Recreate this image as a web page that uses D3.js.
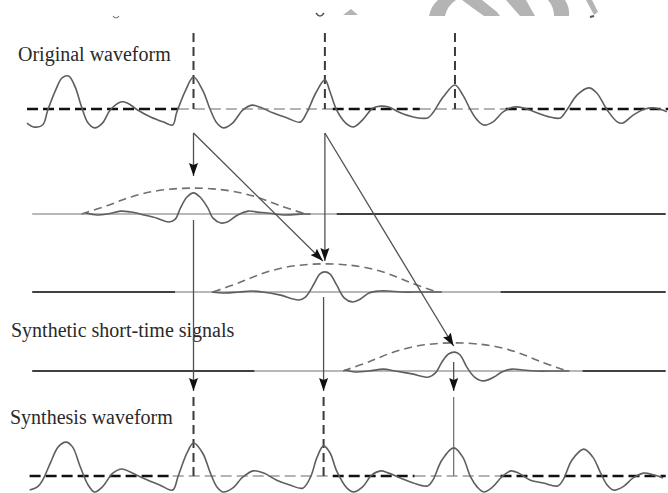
<!DOCTYPE html>
<html>
<head>
<meta charset="utf-8">
<script src="https://cdn.jsdelivr.net/npm/d3@7"></script>
<style>
  html, body { margin: 0; padding: 0; background: #fff; }
  svg { display: block; }
</style>
</head>
<body>
<div id="chart"></div>
<script>
// --- data (time in ms, amplitude in arbitrary units) ---
var origT = [0.0, 0.5, 1.2, 1.6, 2.2, 2.7, 3.2, 3.7, 4.2, 4.7, 5.2, 5.8, 6.4, 7.2, 7.7, 8.5, 9.5, 10.5, 11.2, 11.5,
  12.2, 12.8, 13.5, 14.1, 14.6, 15.1, 15.8, 16.6, 17.3, 17.9, 18.9, 20.0, 21.0, 21.5, 22.2, 22.9, 23.3, 23.8,
  24.5, 25.1, 25.8, 26.6, 27.2, 27.8, 28.7, 29.7, 30.8, 31.2, 32.0, 32.9, 33.5, 34.1, 34.6, 35.1, 35.8, 36.6,
  37.4, 38.2, 39.2, 40.2, 41.0, 41.5, 42.3, 43.2, 43.8, 44.6, 45.4, 45.8, 46.6, 47.5, 48.3, 49.2];
var origV = [-0.44, -0.56, -0.50, -0.03, 0.59, 0.97, 1.03, 0.69, 0.06, -0.44, -0.59, -0.44, -0.03, 0.22, 0.19, -0.03, -0.25, -0.41, -0.50, -0.12,
  0.59, 1.00, 0.59, -0.03, -0.44, -0.59, -0.44, -0.03, 0.12, 0.06, -0.12, -0.28, -0.41, -0.12, 0.50, 0.91, 0.53, -0.03,
  -0.44, -0.56, -0.34, 0.03, 0.09, 0.06, -0.12, -0.25, -0.28, -0.12, 0.38, 0.75, 0.44, -0.03, -0.34, -0.50, -0.41, -0.09,
  0.06, 0.03, -0.12, -0.25, -0.28, -0.03, 0.44, 0.66, 0.50, -0.03, -0.41, -0.44, -0.19, 0.00, 0.03, -0.09];

var synthT = [0.2, 0.8, 1.2, 1.8, 2.4, 3.0, 3.5, 4.1, 4.7, 5.2, 5.8, 6.6, 7.3, 7.9, 8.9, 10.2, 11.2, 11.6,
  12.3, 12.8, 13.5, 14.1, 14.6, 15.1, 15.8, 16.6, 17.4, 18.2, 19.2, 20.2, 21.2, 21.8, 22.3, 22.8, 23.3, 23.8,
  24.6, 25.1, 25.8, 26.5, 27.2, 27.8, 28.7, 29.7, 30.8, 31.2, 31.9, 32.8, 33.5, 34.1, 34.6, 35.1, 35.8, 36.5,
  37.2, 37.8, 38.7, 39.7, 40.8, 41.2, 41.9, 42.8, 43.5, 44.1, 44.6, 45.1, 45.8, 46.6, 47.4, 48.2, 48.9];
var synthV = [-0.44, -0.34, -0.13, 0.41, 0.91, 1.06, 0.91, 0.28, -0.28, -0.50, -0.34, 0.09, 0.22, 0.13, -0.06, -0.28, -0.44, -0.03,
  0.72, 1.03, 0.72, 0.09, -0.34, -0.50, -0.38, -0.03, 0.16, 0.09, -0.13, -0.28, -0.38, -0.03, 0.59, 0.94, 0.72, 0.16,
  -0.38, -0.50, -0.34, 0.03, 0.16, 0.09, -0.06, -0.22, -0.31, -0.13, 0.50, 0.88, 0.59, -0.03, -0.34, -0.50, -0.34, -0.03,
  0.16, 0.09, -0.13, -0.22, -0.31, -0.13, 0.50, 0.84, 0.59, 0.09, -0.28, -0.44, -0.34, -0.06, 0.09, 0.03, -0.06];

// pitch marks (ms)
var analysisMarks = [12.8, 22.9, 32.9];
var synthesisMarks = [12.8, 22.8, 32.8];

// short-time signals, offsets from their pitch mark
var st1T = [-8.3, -7.4, -6.6, -5.6, -4.8, -3.8, -2.8, -1.9, -1.4, -1.0, -0.5, 0, 0.5, 1.1, 1.5, 2.1, 2.6, 3.4, 4.2, 4.9, 5.7, 6.9, 8.5, 9.0];
var st1V = [0.03, -0.03, 0, 0.09, 0.06, -0.03, -0.13, -0.25, -0.16, 0.19, 0.53, 0.66, 0.53, 0.19, -0.13, -0.28, -0.25, -0.03, 0.09, 0.06, 0.03, -0.03, 0, 0];
var st2T = [-8.7, -7.7, -6.6, -5.6, -4.8, -3.5, -2.0, -1.5, -0.8, -0.4, 0, 0.4, 0.9, 1.5, 2.1, 2.6, 3.4, 4.2, 4.9, 5.9, 7.5, 9.0];
var st2V = [0, -0.03, 0, 0.03, 0, -0.09, -0.25, -0.16, 0.28, 0.56, 0.63, 0.56, 0.22, -0.19, -0.31, -0.25, -0.03, 0.03, 0.03, 0, 0, 0];
var st3T = [-8.5, -7.7, -6.6, -5.5, -4.6, -3.3, -2.0, -1.5, -1.0, -0.5, 0, 0.4, 0.9, 1.5, 2.2, 3.0, 3.6, 4.4, 5.2, 6.2, 7.7, 8.8];
var st3V = [0.03, -0.03, 0, 0.06, 0, -0.09, -0.19, -0.06, 0.28, 0.53, 0.59, 0.50, 0.13, -0.19, -0.31, -0.19, -0.03, 0.06, 0.03, 0, 0, 0];

// analysis window shape and its height in each band
var winT = [-8.6, -6.6, -4.8, -3.1, -1.5, 0, 1.5, 3.1, 4.8, 6.6, 8.6];
var winV = [0, 0.33, 0.66, 0.87, 0.97, 1, 0.97, 0.87, 0.66, 0.33, 0];
var winPeak = [0.81, 0.88, 0.88];

// zero line pieces: [from, to, tone]
var origZero = [[0, 11.6, "k"], [11.6, 23.5, "g"], [23.5, 30.2, "k"], [30.2, 36.8, "g"], [36.8, 49.3, "k"]];
var synthZero = [[0.2, 11.2, "k"], [11.2, 23.5, "g"], [23.5, 29.8, "k"], [29.8, 36.4, "g"], [36.4, 49.1, "k"]];
var stZero = [
  [[0.4, 23.8, "g"], [23.8, 49.1, "k"]],
  [[0.4, 11.4, "k"], [11.4, 36.4, "g"], [36.4, 49.1, "k"]],
  [[0.4, 17.5, "k"], [17.5, 42.7, "g"], [42.7, 49.1, "k"]]
];

var labels = ["Original waveform", "Synthetic short-time signals", "Synthesis waveform"];

// --- drawing ---
var W = 668, H = 493;
var svg = d3.select("#chart").append("svg")
  .attr("width", W).attr("height", H)
  .style("background", "#fff");

var x = d3.scaleLinear().domain([0, 49.2]).range([27, 667]);
var bases = [109, 214, 292, 371, 476];
function bandY(base) {
  return d3.scaleLinear().domain([-1, 1]).range([base + 32, base - 32]);
}
var yb = bases.map(bandY);

var defs = svg.append("defs");
defs.append("marker")
  .attr("id", "head")
  .attr("viewBox", "0 -5 14 10")
  .attr("markerUnits", "userSpaceOnUse")
  .attr("markerWidth", 14).attr("markerHeight", 10)
  .attr("refX", 13).attr("refY", 0)
  .attr("orient", "auto")
  .append("path")
  .attr("d", "M0,-4.5L13,0L0,4.5L2,0Z")
  .attr("fill", "#111");

// faint watermark bits and cut-off text at the very top
var wm = svg.append("g").attr("fill", "#b4b4b4");
wm.append("path").attr("d", "M343,15L351,9L358,15Z");
wm.append("path").attr("d", "M429,16Q431,6 438,0L456,0Q447,6 445,16Z");
wm.append("path").attr("d", "M462,0L482,0L497,12L500,16L484,16L470,6Z");
wm.append("path").attr("d", "M506,0L526,0L535,16L520,16Z");
wm.append("path").attr("d", "M548,0L565,0Q570,8 569,16L554,16Q554,7 548,0Z");
wm.append("path").attr("d", "M586,0L592,0L598,12L594,15Z");
svg.append("path").attr("d", "M113,16Q116,20 119,16").attr("fill", "none").attr("stroke", "#777").attr("stroke-width", 1.2);
svg.append("path").attr("d", "M316,13Q320,19 324,13").attr("fill", "none").attr("stroke", "#555").attr("stroke-width", 1.5);
svg.append("path").attr("d", "M590,17L594,16").attr("stroke", "#555").attr("stroke-width", 2);

// labels
var labelPos = [[18, 61], [11, 337], [10, 424]];
svg.selectAll("text.lab")
  .data(labels)
  .enter().append("text")
  .attr("class", "lab")
  .attr("x", function(d, i) { return labelPos[i][0]; })
  .attr("y", function(d, i) { return labelPos[i][1]; })
  .attr("font-family", "'Liberation Serif', 'Times New Roman', serif")
  .attr("font-size", 20)
  .attr("fill", "#2a2a2a")
  .text(function(d) { return d; });

var curve = d3.line()
  .x(function(d) { return x(d[0]); })
  .y(function(d) { return d[1]; })
  .curve(d3.curveCatmullRom.alpha(0.5));

function zip(ts, vs, y, shift) {
  return ts.map(function(t, i) { return [t + (shift || 0), y(vs[i])]; });
}

// dashed zero line of a full waveform
function dashedZero(pieces, base) {
  svg.selectAll(null)
    .data(pieces)
    .enter().append("line")
    .attr("x1", function(d) { return x(d[0]); })
    .attr("x2", function(d) { return x(d[1]); })
    .attr("y1", base).attr("y2", base)
    .attr("stroke", function(d) { return d[2] == "k" ? "#111" : "#9a9a9a"; })
    .attr("stroke-width", function(d) { return d[2] == "k" ? 2.4 : 1.6; })
    .attr("stroke-dasharray", "11,5");
}

// original waveform
dashedZero(origZero, bases[0]);
svg.selectAll(null)
  .data(analysisMarks)
  .enter().append("line")
  .attr("x1", function(d) { return x(d); }).attr("x2", function(d) { return x(d); })
  .attr("y1", 33).attr("y2", bases[0])
  .attr("stroke", "#3a3a3a").attr("stroke-width", 2)
  .attr("stroke-dasharray", "9,5");
svg.append("path")
  .attr("d", curve(zip(origT, origV, yb[0])))
  .attr("fill", "none").attr("stroke", "#5e5e5e").attr("stroke-width", 1.6);

// short-time signals
var stT = [st1T, st2T, st3T], stV = [st1V, st2V, st3V];
stT.forEach(function(ts, k) {
  var y = yb[k + 1], base = bases[k + 1], m = analysisMarks[k];
  svg.selectAll(null)
    .data(stZero[k])
    .enter().append("line")
    .attr("x1", function(d) { return x(d[0]); })
    .attr("x2", function(d) { return x(d[1]); })
    .attr("y1", base).attr("y2", base)
    .attr("stroke", function(d) { return d[2] == "k" ? "#404040" : "#a0a0a0"; })
    .attr("stroke-width", function(d) { return d[2] == "k" ? 2 : 1.5; });
  svg.append("path")
    .attr("d", curve(winT.map(function(t, i) { return [m + t, y(winV[i] * winPeak[k])]; })))
    .attr("fill", "none").attr("stroke", "#707070").attr("stroke-width", 1.6)
    .attr("stroke-dasharray", "8,5");
  svg.append("path")
    .attr("d", curve(zip(ts, stV[k], y, m)))
    .attr("fill", "none").attr("stroke", "#5e5e5e").attr("stroke-width", 1.6);
});

// synthesis waveform
dashedZero(synthZero, bases[4]);
svg.selectAll(null)
  .data(synthesisMarks)
  .enter().append("line")
  .attr("x1", function(d) { return x(d); }).attr("x2", function(d) { return x(d); })
  .attr("y1", 397).attr("y2", bases[4])
  .attr("stroke", function(d, i) { return i < 2 ? "#3a3a3a" : "#777"; })
  .attr("stroke-width", function(d, i) { return i < 2 ? 2 : 1.3; })
  .attr("stroke-dasharray", function(d, i) { return i < 2 ? "9,5" : null; });
svg.append("path")
  .attr("d", curve(zip(synthT, synthV, yb[4])))
  .attr("fill", "none").attr("stroke", "#5e5e5e").attr("stroke-width", 1.6);

// arrows
var arrows = [
  [analysisMarks[0], 133, analysisMarks[0], 176],
  [analysisMarks[0], 133, analysisMarks[1] - 0.15, 261],
  [analysisMarks[1], 133, analysisMarks[1], 261],
  [analysisMarks[1], 133, analysisMarks[2] - 0.1, 346],
  [synthesisMarks[0], 220, synthesisMarks[0], 391],
  [synthesisMarks[1], 297, synthesisMarks[1], 391],
  [synthesisMarks[2], 362, synthesisMarks[2], 391]
];
svg.selectAll(null)
  .data(arrows)
  .enter().append("line")
  .attr("x1", function(d) { return x(d[0]); })
  .attr("y1", function(d) { return d[1]; })
  .attr("x2", function(d) { return x(d[2]); })
  .attr("y2", function(d) { return d[3]; })
  .attr("stroke", "#505050").attr("stroke-width", 1.3)
  .attr("marker-end", "url(#head)");
</script>
</body>
</html>
